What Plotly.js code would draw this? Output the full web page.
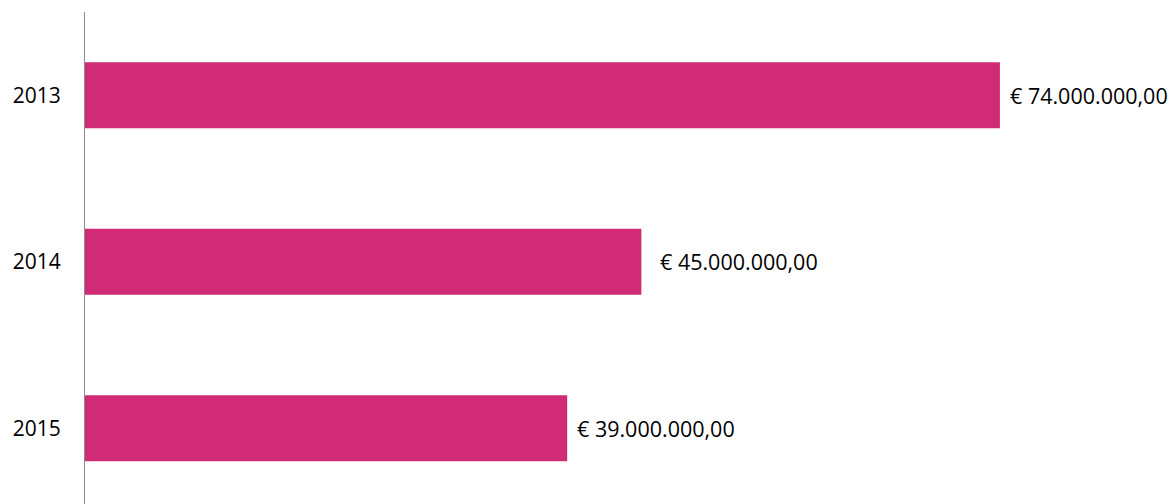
<!DOCTYPE html>
<html>
<head>
<meta charset="utf-8">
<script src="https://cdn.plot.ly/plotly-3.0.1.min.js"></script>
<style>html,body{margin:0;padding:0;background:#fff;}#chart{width:1173px;height:504px;}</style>
</head>
<body>
<div id="chart"></div>
<script>
const years = ['2013', '2014', '2015'];
const amounts = [74000000, 45000000, 39000000];
const amountLabels = ['€ 74.000.000,00', '€ 45.000.000,00', '€ 39.000.000,00'];

const FONT = 'Open Sans, Liberation Sans, sans-serif';

const trace = {
  type: 'bar',
  orientation: 'h',
  y: years,
  x: amounts,
  width: 0.396,
  marker: {color: '#D02B74', line: {width: 0}},
  hoverinfo: 'none'
};

// layout detail: the 2014 label sits a little further from its bar in the original
function labelShift(i) { return i === 1 ? 17 : 8; }

const annotations = years.map((y, i) => ({
  x: amounts[i], y: i, xref: 'x', yref: 'y',
  text: amountLabels[i], showarrow: false,
  xanchor: 'left', yanchor: 'middle', xshift: labelShift(i),
  font: {family: FONT, size: 21.5, color: '#000'}
}));

const layout = {
  width: 1173, height: 504,
  margin: {l: 85, r: 0, t: 12, b: 0, pad: 0},
  paper_bgcolor: '#fff', plot_bgcolor: '#fff',
  showlegend: false,
  xaxis: {range: [0, 88000000], showgrid: false, zeroline: false, showline: false, showticklabels: false, ticks: ''},
  yaxis: {
    type: 'category', categoryorder: 'array', categoryarray: years,
    range: [2.455, -0.5],
    showgrid: false, zeroline: false,
    showline: true, linecolor: '#8c8c8c', linewidth: 1,
    ticks: '', ticklabelstandoff: 19,
    tickfont: {family: FONT, size: 21, color: '#000'}
  },
  annotations: annotations,
  font: {family: FONT}
};

Plotly.newPlot('chart', [trace], layout, {displayModeBar: false, staticPlot: true});
</script>
</body>
</html>
